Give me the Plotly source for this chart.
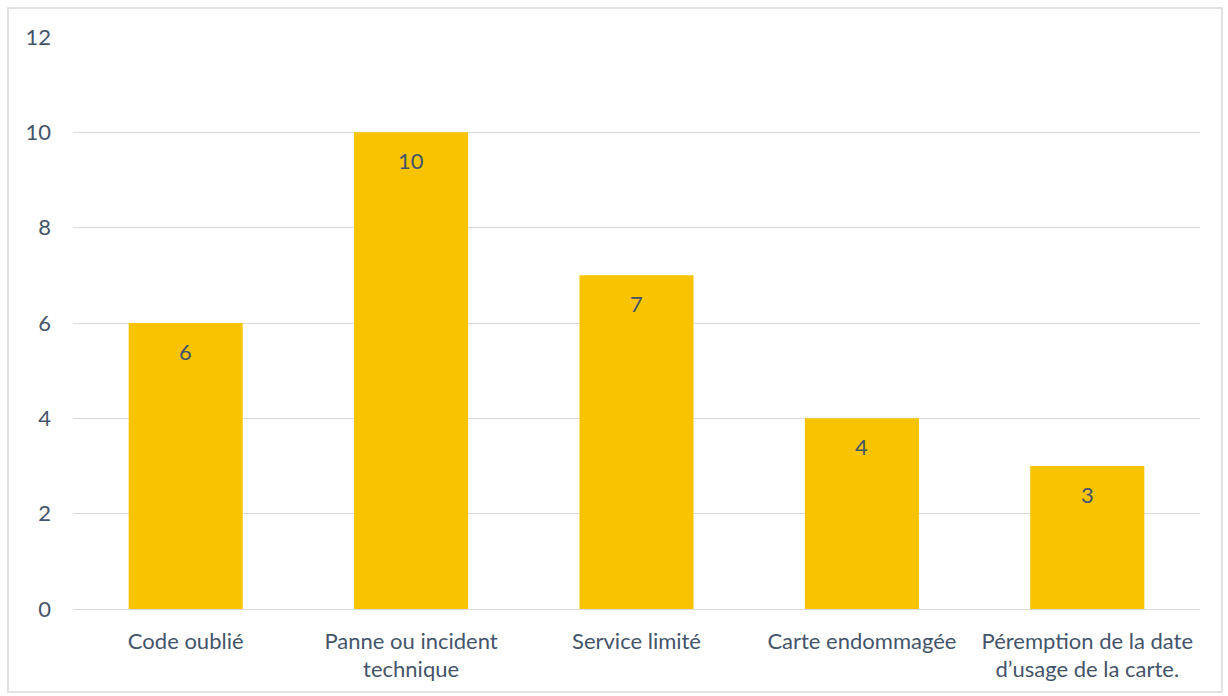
import plotly.graph_objects as go

categories = [
    "Code oublié",
    "Panne ou incident<br>technique",
    "Service limité",
    "Carte endommagée",
    "Péremption de la date<br>d’usage de la carte.",
]
counts = [6, 10, 7, 4, 3]
y_ticks = [0, 2, 4, 6, 8, 10, 12]

text_color = "#44546A"
grid_color = "#D9D9D9"
font_family = "Lato, 'Noto Sans', sans-serif"
font_size = 22

W, H = 1228, 696
ML, MR, MT, MB = 73, 28, 37, 87

fig = go.Figure(
    go.Bar(
        x=categories,
        y=counts,
        marker=dict(color="#F8C300", line=dict(width=0)),
        hoverinfo="skip",
    )
)

# value labels just below the top of each bar
for cat, val in zip(categories, counts):
    fig.add_annotation(
        x=cat,
        y=val,
        text=str(val),
        showarrow=False,
        yanchor="middle",
        yshift=-28,
        font=dict(size=font_size, color=text_color, family=font_family),
    )

fig.update_layout(
    width=W,
    height=H,
    margin=dict(l=ML, r=MR, t=MT, b=MB),
    paper_bgcolor="white",
    plot_bgcolor="white",
    bargap=0.494,
    showlegend=False,
    font=dict(family=font_family, color=text_color, size=font_size),
)

fig.update_yaxes(
    range=[0, 12],
    tickvals=y_ticks,
    showgrid=True,
    gridcolor=grid_color,
    gridwidth=1.3,
    zeroline=False,
    showline=False,
    ticks="",
    ticklabelstandoff=21,
    tickfont=dict(size=font_size, color=text_color),
)
fig.update_xaxes(
    showline=True,
    linecolor=grid_color,
    linewidth=1.3,
    ticks="",
    tickfont=dict(size=font_size, color=text_color),
    ticklabelstandoff=12,
)

# outer chart frame
pw, ph = W - ML - MR, H - MT - MB
fig.add_shape(
    type="rect",
    xref="paper",
    yref="paper",
    x0=(8 - ML) / pw,
    x1=(W - 6 - ML) / pw,
    y0=-(H - 4 - (H - MB)) / ph,
    y1=1 + (MT - 8) / ph,
    line=dict(color="#D9D9D9", width=1.5),
    layer="below",
)

fig.write_html("out.html")
